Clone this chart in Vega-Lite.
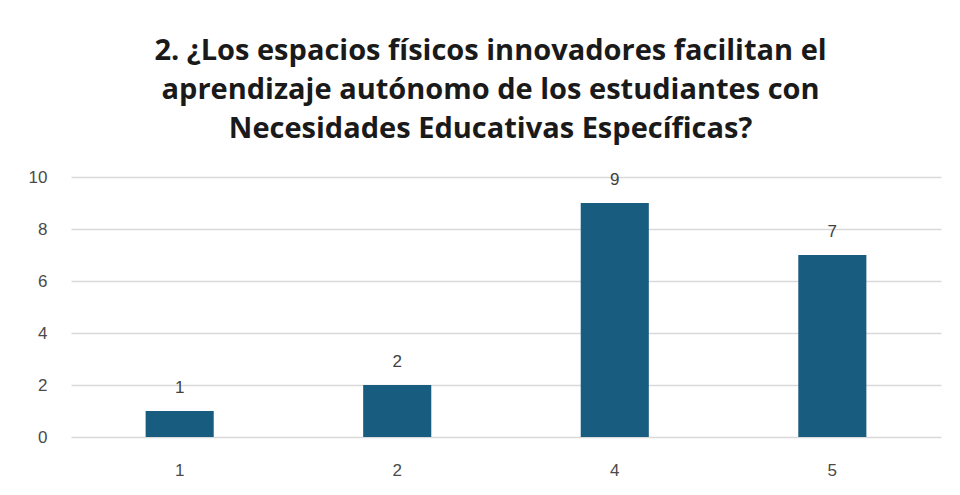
{
  "$schema": "https://vega.github.io/schema/vega-lite/v6.json",
  "width": 870,
  "height": 260,
  "padding": {"left": 28, "top": 37, "right": 16, "bottom": 10},
  "background": "white",
  "title": {
    "text": ["2. ¿Los espacios físicos innovadores facilitan el", "aprendizaje autónomo de los estudiantes con", "Necesidades Educativas Específicas?"],
    "font": "Open Sans",
    "fontSize": 29,
    "fontWeight": "bold",
    "color": "#1a1a1a",
    "lineHeight": 39,
    "anchor": "middle",
    "frame": "bounds",
    "offset": 24,
    "dx": 6
  },
  "data": {
    "values": [
      {"respuesta": "1", "frecuencia": 1},
      {"respuesta": "2", "frecuencia": 2},
      {"respuesta": "4", "frecuencia": 9},
      {"respuesta": "5", "frecuencia": 7}
    ]
  },
  "config": {
    "view": {"stroke": null},
    "axis": {"labelFont": "Liberation Sans", "labelFontSize": 17, "labelColor": "#4a4a4a"}
  },
  "encoding": {
    "x": {
      "field": "respuesta",
      "type": "nominal",
      "sort": null,
      "scale": {"paddingInner": 0.687, "paddingOuter": 0.343},
      "axis": {"title": null, "labelAngle": 0, "domain": false, "ticks": false, "labelPadding": 25}
    },
    "y": {
      "field": "frecuencia",
      "type": "quantitative",
      "scale": {"domain": [0, 10]},
      "axis": {"title": null, "values": [0, 2, 4, 6, 8, 10], "domain": false, "ticks": false, "labelPadding": 24, "gridColor": "#d9d9d9", "gridWidth": 1.5}
    }
  },
  "layer": [
    {"mark": {"type": "bar", "color": "#185c7f"}},
    {
      "mark": {"type": "text", "baseline": "bottom", "dy": -14, "font": "Liberation Sans", "fontSize": 17, "color": "#404040"},
      "encoding": {"text": {"field": "frecuencia", "type": "quantitative"}}
    }
  ]
}
